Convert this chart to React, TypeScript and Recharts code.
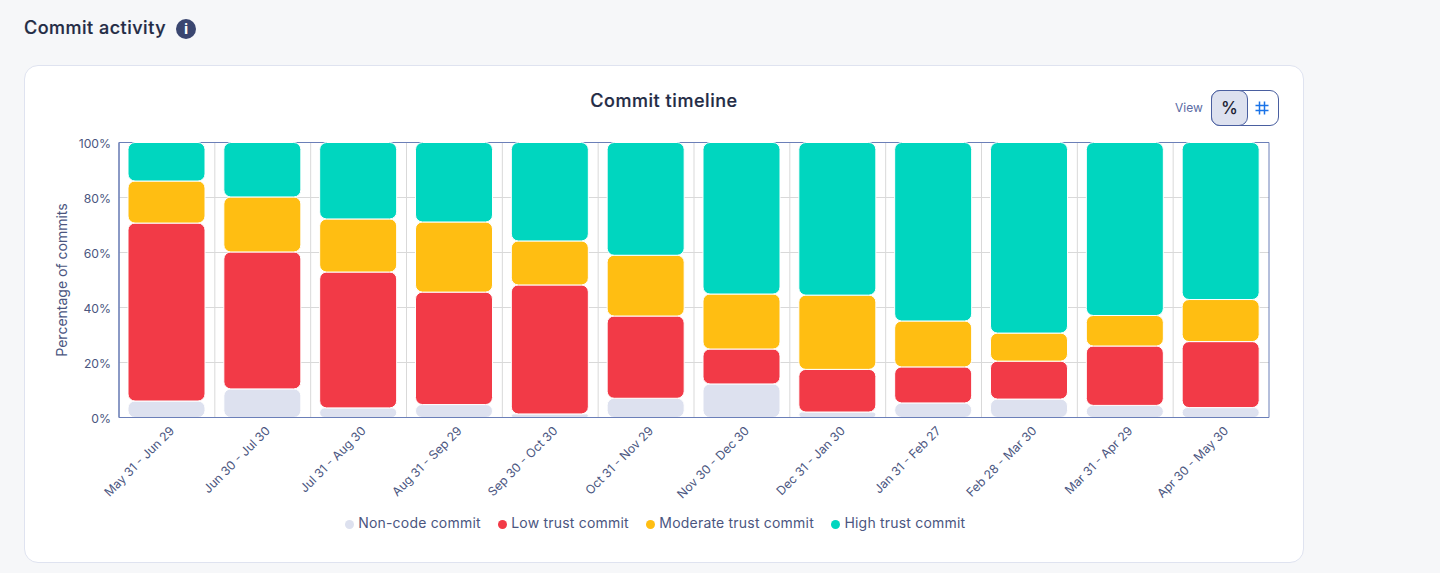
import { BarChart, Bar, XAxis, YAxis, CartesianGrid, Legend, ReferenceArea } from 'recharts';

const periods = [
  'May 31 - Jun 29', 'Jun 30 - Jul 30', 'Jul 31 - Aug 30', 'Aug 31 - Sep 29',
  'Sep 30 - Oct 30', 'Oct 31 - Nov 29', 'Nov 30 - Dec 30', 'Dec 31 - Jan 30',
  'Jan 31 - Feb 27', 'Feb 28 - Mar 30', 'Mar 31 - Apr 29', 'Apr 30 - May 30',
];
const nonCode = [6, 10.4, 3.5, 4.7, 1.3, 7, 12.2, 2, 5.3, 6.7, 4.4, 3.6];
const lowTrust = [64.7, 49.8, 49.4, 40.9, 46.9, 29.9, 12.7, 15.5, 13.1, 13.8, 21.6, 24];
const moderateTrust = [15.3, 20, 19.3, 25.5, 16, 22.1, 20, 27, 16.7, 10.2, 11.1, 15.3];
const highTrust = [14, 19.8, 27.8, 28.9, 35.8, 41, 55.1, 55.5, 64.9, 69.3, 62.9, 57.1];
const yTicks = [0, 20, 40, 60, 80, 100];

const data = periods.map((period, i) => ({
  period,
  nonCode: nonCode[i],
  lowTrust: lowTrust[i],
  moderateTrust: moderateTrust[i],
  highTrust: highTrust[i],
}));

const FONT = 'Inter, "Noto Sans", sans-serif';
const TEXT = '#4b567f';

export default function App() {
  return (
    <div style={{ position: 'absolute', left: 0, top: 0, width: 1440, height: 573, background: '#f6f7f9', overflow: 'hidden', fontFamily: FONT }}>
      <div style={{ position: 'absolute', left: 24, top: 17, fontSize: 18, fontWeight: 500, letterSpacing: 0.5, color: '#232b45', lineHeight: '22px', WebkitTextStroke: '0.2px #232b45' }}>Commit activity</div>
      <div style={{ position: 'absolute', left: 176, top: 19, width: 20, height: 20, borderRadius: 10, background: '#3a4670', color: '#fff', fontSize: 13, fontWeight: 800, textAlign: 'center', lineHeight: '20px' }}>i</div>

      <div style={{ position: 'absolute', left: 24, top: 65, width: 1278, height: 496, background: '#fff', border: '1px solid #dfe3f0', borderRadius: 14 }} />
      <div style={{ position: 'absolute', left: 24, top: 90, width: 1280, textAlign: 'center', fontSize: 18, fontWeight: 500, letterSpacing: 0.55, color: '#232b45', lineHeight: '22px', WebkitTextStroke: '0.2px #232b45' }}>Commit timeline</div>

      <div style={{ position: 'absolute', left: 1175, top: 100, fontSize: 12, color: '#5a6ba3', lineHeight: '16px' }}>View</div>
      <div style={{ position: 'absolute', left: 1211, top: 90, width: 66, height: 34, border: '1px solid #4a5fa0', borderRadius: 9, background: '#fff' }} />
      <div style={{ position: 'absolute', left: 1211, top: 90, width: 35, height: 34, border: '1px solid #4a5fa0', borderRadius: 9, background: '#dde1ef', color: '#1c2233', fontSize: 17, fontWeight: 500, textAlign: 'center', lineHeight: '34px' }}>%</div>
      <svg style={{ position: 'absolute', left: 1255, top: 101 }} width={14} height={14} viewBox="0 0 14 14" fill="none" stroke="#1a73e8" strokeWidth={1.5}>
        <path d="M4.5 0.5V13.5M9.5 0.5V13.5M0.5 4.5H13.5M0.5 9.5H13.5" />
      </svg>

      <div style={{ position: 'absolute', left: 0, top: 0 }}>
        <BarChart
          width={1440}
          height={573}
          data={data}
          barSize={77}
          margin={{ top: 142.5, right: 171, left: 59, bottom: 71.5 }}
        >
          <CartesianGrid
            stroke="#d9d9d9"
            verticalCoordinatesGenerator={({ offset }: any) =>
              periods.map((_, i) => offset.left + (i * offset.width) / periods.length)
            }
          />
          <XAxis
            dataKey="period"
            interval={0}
            height={60}
            angle={-45}
            textAnchor="end"
            dx={2}
            dy={0}
            axisLine={{ stroke: '#6b7fb8' }}
            tickLine={false}
            tick={{ fontSize: 12.2, fill: TEXT, fontFamily: FONT }}
          />
          <YAxis
            width={60}
            domain={[0, 100]}
            ticks={yTicks}
            tickFormatter={(v: number) => `${v}%`}
            axisLine={{ stroke: '#6b7fb8' }}
            tickLine={false}
            dy={1}
            tick={{ fontSize: 12.2, fill: TEXT, fontFamily: FONT }}
            label={{ value: 'Percentage of commits', angle: -90, position: 'insideLeft', offset: 3, style: { textAnchor: 'middle', fontSize: 14, fill: TEXT, fontFamily: FONT } }}
          />
          <Legend
            height={24}
            iconType="circle"
            iconSize={9}
            itemSorter={null}
            wrapperStyle={{ bottom: 35, fontFamily: FONT, fontSize: 14 }}
            formatter={(value: string) => <span style={{ color: TEXT, letterSpacing: 0.2, marginRight: 7.5 }}>{value}</span>}
          />
          <Bar dataKey="nonCode" name="Non-code commit" stackId="a" fill="#dde1ef" stroke="#fff" strokeWidth={1} radius={7} isAnimationActive={false} />
          <Bar dataKey="lowTrust" name="Low trust commit" stackId="a" fill="#f23a47" stroke="#fff" strokeWidth={1} radius={7} isAnimationActive={false} />
          <Bar dataKey="moderateTrust" name="Moderate trust commit" stackId="a" fill="#ffbe12" stroke="#fff" strokeWidth={1} radius={7} isAnimationActive={false} />
          <Bar dataKey="highTrust" name="High trust commit" stackId="a" fill="#00d6bf" stroke="#fff" strokeWidth={1} radius={7} isAnimationActive={false} />
          <ReferenceArea y1={0} y2={100} fill="none" stroke="#6b7fb8" strokeWidth={1} ifOverflow="visible" />
        </BarChart>
      </div>
    </div>
  );
}
